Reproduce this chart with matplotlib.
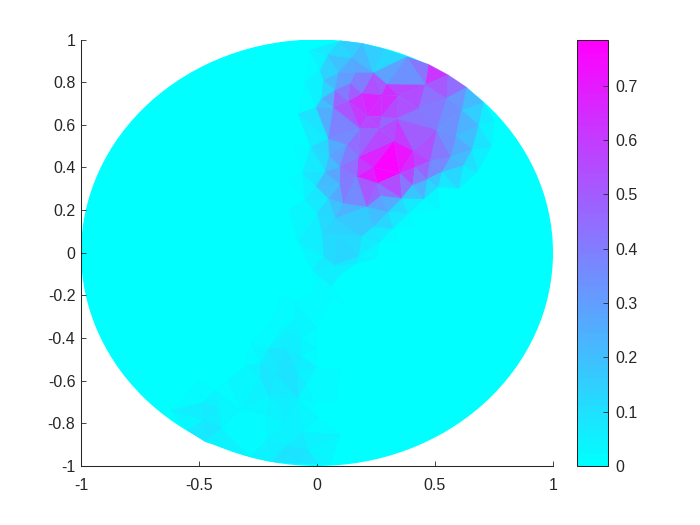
import matplotlib
matplotlib.use("Agg")
import matplotlib.pyplot as plt
from matplotlib.patches import Circle

# mesh nodes: x, y, value
upper_x = [.098, .193, .044, .147, .013, .090, .161, .239, .295, .380, .472, .556, .634, .705, .613, .549,
           .458, .345, .274, .189, .133, .069, .213, .140, .076, .027, -.004, .020,
           .048, .684, .589, .656, .620, .567, .479, .507, .430, .338, .274, .326, .408, .264, .182, .126,
           -.027, .052, .034, -.061, -.004, .097, .097, .236, .168, .256, .352, .270, .405, .453, .465,
           .514, .531, .415, .175, -.051, .048, .0, .111, .211, .302, .387, .359, .239, .323, .076,
           .020, .083, .189, .267, .027, .076, .168, .175]
upper_y = [.994, .982, .927, .912, .857, .844, .844, .844, .791, .919, .884, .834, .776, .704, .669, .724,
           .787, .737, .740, .748, .712, .682, .641, .794, .763, .810, .682, .724,
           .536, .599, .547, .485, .411, .450, .430, .576, .677, .630, .638, .526, .479, .583, .583, .505,
           .497, .458, .380, .376, .313, .321, .404, .400, .357, .325, .372, .268, .318, .252, .344,
           .307, .380, .400, .450, .247, .255, .185, .232, .216, .193, .182, .255, .122, .114, .161,
           .091, .091, .075, .052, -.018, -.058, -.050, -.018]
upper_v = [.14, .14, .08, .18, .06, .30, .32, .32, .48, .05, .72, .62, .33, .08, .25, .40,
           .50, .72, .72, .55, .62, .50, .74, .33, .28, .08, .06, .06,
           .20, .12, .35, .15, .18, .30, .55, .40, .42, .45, .50, .72, .65, .48, .45, .42,
           .02, .18, .16, .02, .10, .38, .30, .80, .55, .72, .78, .45, .36, .05, .30,
           .03, .22, .55, .48, .02, .12, .08, .28, .25, .18, .02, .14, .16, .03, .18,
           .10, .16, .08, .01, .08, .12, .03, .10]

lower_x = [-.552, -.482, -.475, -.404, -.486, -.414, -.432, -.319, -.376, -.305, -.242, -.244, -.206, -.136,
           -.065, .001, -.044, -.079, -.171, -.086, -.206, -.150, -.220, -.143, -.129, -.213, -.284, -.192,
           -.037, .0, -.079, -.058, .006, -.009, -.136, -.157, -.093, -.093, -.009, .062, .062, .0, -.065, .0]
lower_y = [-.831, -.784, -.886, -.823, -.703, -.733, -.647, -.737, -.597, -.531, -.519, -.581, -.448, -.444,
           -.487, -.537, -.612, -.683, -.573, -.565, -.672, -.730, -.761, -.800, -.902, -.878, -.956, -.980,
           -.925, -.99, -.988, -.839, -.776, -.706, -.370, -.354, -.315, -.229, -.175, -.159, -.218, -.354, -.401, -.448]
lower_v = [.01, .10, .10, .03, .05, .05, .02, .02, .01, .02, .05, .07, .05, .07,
           .05, .005, .04, .05, .11, .10, .05, .05, .02, .05, .05, .02, .005, .10,
           .10, .02, .13, .04, .005, .01, .04, .02, .04, .02, .01, .03, .01, .02, .04, .01]

ring_x = [-.03, -.05, -.08, -.10, -.13, -.12, -.08, -.02, .10, .25, .35, .42, .52, .60, .68, .74, .75, .285,
          -.62, -.50, -.38, -.28, -.20, -.15, -.05, .13, .08, .10, .08, .10, .06]
ring_y = [.95, .80, .65, .50, .35, .20, .05, -.08, -.10, -.03, .04, .12, .20, .30, .38, .50, .62, .955,
          -.74, -.60, -.48, -.42, -.33, -.20, -.10, -.25, -.40, -.55, -.70, -.85, -.99]

node_x = upper_x + lower_x + ring_x
node_y = upper_y + lower_y + ring_y
node_v = upper_v + lower_v + [0.0] * len(ring_x)

x_ticks = [-1, -0.5, 0, 0.5, 1]
y_ticks = [-1, -0.8, -0.6, -0.4, -0.2, 0, 0.2, 0.4, 0.6, 0.8, 1]
y_labels = ["-1", "-0.8", "-0.6", "-0.4", "-0.2", "0", "0.2", "0.4", "0.6", "0.8", "1"]
bar_ticks = [0, 0.1, 0.2, 0.3, 0.4, 0.5, 0.6, 0.7]
bar_labels = ["0", "0.1", "0.2", "0.3", "0.4", "0.5", "0.6", "0.7"]
v_max = 0.785

plt.rcParams.update({
    "font.family": ["Liberation Sans", "DejaVu Sans"],
    "font.size": 11.5,
    "axes.linewidth": 0.75,
    "axes.edgecolor": "#262626",
    "xtick.color": "#262626",
    "ytick.color": "#262626",
})

W, H = 700, 525
fig = plt.figure(figsize=(7, 5.25), dpi=100)
ax = fig.add_axes([81 / W, (H - 466) / H, 472 / W, 426.5 / H])
cmap = plt.get_cmap("cool", 64)

ax.add_patch(Circle((0, 0), 1, facecolor=cmap(0), edgecolor="none", zorder=1))
pc = ax.tripcolor(node_x, node_y, node_v, shading="flat", cmap=cmap, vmin=0, vmax=v_max,
                  edgecolors="face", linewidth=0.2, zorder=2)

ax.set_xlim(-1, 1)
ax.set_ylim(-1, 1)
ax.set_xticks(x_ticks)
ax.set_xticklabels(["-1", "-0.5", "0", "0.5", "1"])
ax.set_yticks(y_ticks)
ax.set_yticklabels(y_labels)
ax.spines["top"].set_visible(False)
ax.spines["right"].set_visible(False)
ax.tick_params(axis="x", direction="in", length=3.5, width=0.6, pad=9, labelsize=11.5)
ax.tick_params(axis="y", direction="in", length=3.5, width=0.6, pad=4, labelsize=11.5)

cax = fig.add_axes([577 / W, (H - 466) / H, 31 / W, 426.5 / H])
cbar = fig.colorbar(pc, cax=cax)
cbar.set_ticks(bar_ticks)
cbar.set_ticklabels(bar_labels)
cbar.ax.tick_params(direction="in", length=3.5, width=0.6, pad=5, labelsize=11.5)
cbar.outline.set_linewidth(0.75)

fig.savefig("out.png", dpi=100)
